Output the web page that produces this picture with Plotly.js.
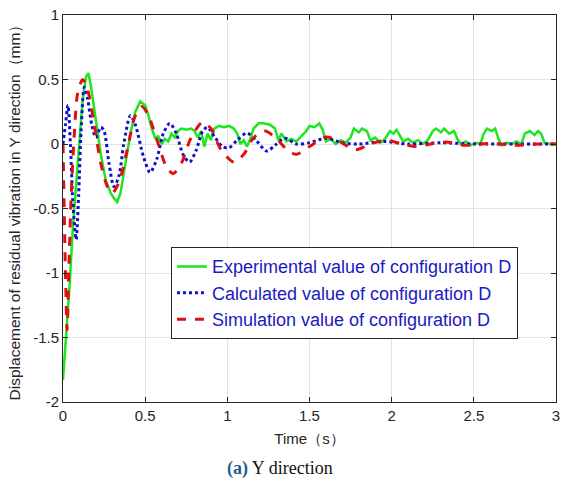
<!DOCTYPE html>
<html>
<head>
<meta charset="utf-8">
<script src="https://cdn.plot.ly/plotly-3.0.1.min.js"></script>
<style>html,body{margin:0;padding:0;background:#fff;}#chart{width:562px;height:484px;}</style>
</head>
<body>
<div id="chart"></div>
<script>
// Experimental value (green)
const expT = [0,0.02,0.04,0.06,0.08,0.10,0.12,0.14,0.155,0.17,0.20,0.23,0.26,0.29,0.31,0.33,0.35,0.38,0.41,0.44,0.47,0.50,0.52,0.54,0.56,0.58,0.60,0.62,0.64,0.66,0.68,0.70,0.72,0.75,0.78,0.80,0.82,0.84,0.86,0.88,0.90,0.92,0.95,0.98,1.01,1.04,1.06,1.08,1.10,1.12,1.14,1.16,1.19,1.22,1.26,1.29,1.31,1.33,1.36,1.39,1.42,1.45,1.48,1.50,1.53,1.56,1.58,1.60,1.63,1.66,1.69,1.72,1.75,1.77,1.80,1.82,1.85,1.87,1.90,1.93,1.96,1.99,2.01,2.03,2.05,2.07,2.10,2.13,2.16,2.19,2.22,2.25,2.27,2.30,2.32,2.35,2.38,2.40,2.42,2.45,2.48,2.51,2.54,2.56,2.58,2.61,2.63,2.65,2.67,2.70,2.73,2.76,2.79,2.81,2.84,2.87,2.89,2.91,2.93,2.96,3.0];
const expY = [-1.83,-1.5,-1.1,-0.65,-0.3,0.05,0.35,0.52,0.55,0.45,0.2,-0.08,-0.28,-0.38,-0.42,-0.45,-0.38,-0.15,0.08,0.25,0.33,0.3,0.22,0.12,0.05,0.06,0.0,0.04,0.02,0.08,0.05,0.1,0.12,0.11,0.12,0.1,0.05,0.1,-0.02,0.08,0.03,0.12,0.14,0.13,0.14,0.12,0.08,0.0,0.03,-0.02,0.04,0.12,0.16,0.16,0.15,0.12,0.03,0.08,0.02,0.04,0.02,0.06,0.1,0.14,0.13,0.16,0.11,0.02,0.04,0.0,0.03,0.01,0.05,0.12,0.09,0.12,0.1,0.03,0.05,0.01,0.04,0.1,0.08,0.11,0.07,0.02,0.04,0.01,0.03,0.0,0.03,0.1,0.12,0.09,0.12,0.08,0.1,0.04,0.0,0.02,-0.01,0.01,0.0,0.08,0.12,0.1,0.12,0.04,-0.01,0.01,0.0,0.02,0.0,0.08,0.1,0.07,0.1,0.08,0.01,0.0,0.0];

// Calculated value (blue dotted)
const calT = [0,0.015,0.03,0.045,0.06,0.08,0.095,0.11,0.13,0.15,0.175,0.2,0.23,0.25,0.28,0.31,0.34,0.37,0.41,0.44,0.49,0.53,0.57,0.61,0.65,0.69,0.73,0.77,0.81,0.85,0.88,0.92,0.97,1.01,1.06,1.12,1.18,1.24,1.29,1.35,1.42,1.50,1.60,1.70,1.80,1.95,2.1,2.3,2.5,2.75,3.0];
const calY = [0,0.15,0.3,0.0,-0.45,-0.74,-0.4,0.1,0.44,0.35,0.15,0.05,0.13,0.1,-0.15,-0.33,-0.25,0.0,0.22,0.15,-0.1,-0.22,-0.12,0.08,0.16,0.08,-0.08,-0.14,-0.05,0.1,0.13,0.06,-0.02,-0.03,0.03,0.085,0.02,-0.055,-0.01,0.045,0.0,0.01,0.045,0.01,0.0,0.02,0.0,0.01,0.0,0.0,0.0];

// Simulation value (red dashed)
const simT = [0,0.015,0.025,0.035,0.05,0.07,0.09,0.12,0.15,0.19,0.23,0.27,0.30,0.34,0.39,0.44,0.48,0.52,0.58,0.63,0.67,0.72,0.78,0.85,0.90,0.96,1.04,1.10,1.16,1.23,1.30,1.36,1.42,1.50,1.60,1.68,1.78,1.87,1.97,2.06,2.15,2.24,2.33,2.45,2.6,2.75,2.9,3.0];
const simY = [0,-1.0,-1.44,-1.0,-0.4,0.1,0.4,0.5,0.42,0.15,-0.15,-0.33,-0.38,-0.3,-0.05,0.22,0.29,0.22,0.0,-0.18,-0.23,-0.15,0.05,0.17,0.12,-0.04,-0.14,-0.08,0.05,0.10,0.04,-0.04,-0.08,-0.02,0.055,0.02,-0.045,0.0,0.03,0.0,-0.02,0.0,0.015,-0.01,0.005,-0.01,0.0,0.0];

const seriesNames = ["Experimental value of configuration D","Calculated value of configuration D","Simulation value of configuration D"];
const xTickVals = [0,0.5,1,1.5,2,2.5,3];
const xTickText = ["0","0.5","1","1.5","2","2.5","3"];
const yTickVals = [-2,-1.5,-1,-0.5,0,0.5,1];
const yTickText = ["-2","-1.5","-1","-0.5","0","0.5","1"];

const font = "Liberation Sans, Arial, sans-serif";
const traces = [
  {x: expT, y: expY, name: seriesNames[0], mode: "lines", line: {color: "#1ee61e", width: 2.5}},
  {x: calT, y: calY, name: seriesNames[1], mode: "lines", line: {color: "#1010c8", width: 3, dash: "dot", shape: "spline", smoothing: 0.8}},
  {x: simT, y: simY, name: seriesNames[2], mode: "lines", line: {color: "#e01010", width: 3, dash: "dash", shape: "spline", smoothing: 0.8}}
];
const axisCommon = {
  showgrid: true, gridcolor: "#e3e3e3", gridwidth: 1, automargin: false,
  zeroline: false, showline: true, linecolor: "#262626", linewidth: 1,
  mirror: "ticks", ticks: "inside", ticklen: 5, tickcolor: "#262626",
  tickfont: {family: font, size: 15, color: "#262626"}
};
const layout = {
  width: 562, height: 484,
  margin: {l: 63, r: 6, t: 15, b: 82},
  paper_bgcolor: "#ffffff", plot_bgcolor: "#ffffff",
  showlegend: true,
  legend: {x: 0.219, y: 0.40, xanchor: "left", yanchor: "top",
    bgcolor: "#ffffff", bordercolor: "#262626", borderwidth: 1,
    font: {family: font, size: 18, color: "#1a1ac0"}, tracegroupgap: 0},
  xaxis: Object.assign({}, axisCommon, {range: [0, 3], tickvals: xTickVals, ticktext: xTickText,
    title: {text: "Time（s）", font: {family: font, size: 15, color: "#262626"}, standoff: 10}}),
  yaxis: Object.assign({}, axisCommon, {range: [-2, 1], tickvals: yTickVals, ticktext: yTickText,
    title: {text: "Displacement of residual vibration in Y direction（mm）", font: {family: font, size: 15.5, color: "#262626"}, standoff: 8}}),
  annotations: [{
    xref: "paper", yref: "paper", x: 0.44, y: -0.171, xanchor: "center", yanchor: "middle",
    showarrow: false,
    text: "<span style=\"color:#1f5d94\"><b>(a)</b></span> Y direction",
    font: {family: "Liberation Serif, Times New Roman, serif", size: 18, color: "#111111"}
  }]
};
Plotly.newPlot("chart", traces, layout, {displayModeBar: false, staticPlot: true});
</script>
</body>
</html>
